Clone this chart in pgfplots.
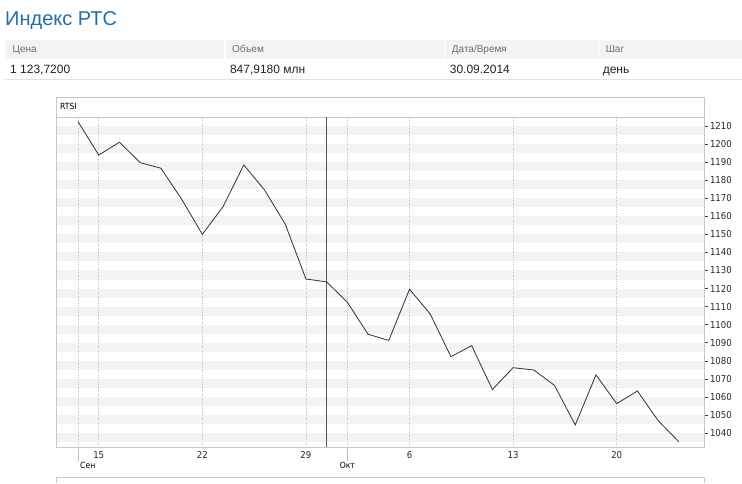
\documentclass[border=0pt]{standalone}
\usepackage{fontspec}
\setmainfont{Liberation Sans}
\newfontfamily\cond{DejaVu Sans Condensed}
\usepackage{pgfplots}
\pgfplotsset{compat=1.18}
\definecolor{titleblue}{HTML}{1F6FA8}
\definecolor{headgray}{HTML}{F3F3F3}
\definecolor{headtext}{HTML}{6E6E6E}
\definecolor{valtext}{HTML}{222222}
\definecolor{rowline}{HTML}{E2E2E2}
\definecolor{boxgray}{HTML}{C8C8C8}
\definecolor{gridgray}{HTML}{BDBDBD}
\definecolor{stripe}{HTML}{F3F3F3}
\definecolor{linecol}{HTML}{2C3C50}
\definecolor{cursor}{HTML}{555555}
\begin{document}
\begin{tikzpicture}[x=1pt,y=1pt]
\path (0pt,0pt) rectangle (742pt,-483pt);
% title
\node[anchor=base west, inner sep=0, text=titleblue, font=\fontsize{20}{24}\selectfont] at (5pt,-26pt) {Индекс РТС};
% header row
\fill[headgray] (5pt,-40pt) rectangle (742pt,-59.3pt);
\foreach \xx in {225,445,599} {\draw[white, line width=1.5pt] (\xx pt,-40pt) -- (\xx pt,-59.3pt);}
\begin{scope}[every node/.style={anchor=base west, inner sep=0, text=headtext, font=\fontsize{10}{12}\selectfont}]
\node at (12.5pt,-52.5pt) {Цена};
\node at (232pt,-52.5pt) {Объем};
\node at (452pt,-52.5pt) {Дата/Время};
\node at (606pt,-52.5pt) {Шаг};
\end{scope}
\begin{scope}[every node/.style={anchor=base west, inner sep=0, text=valtext, font=\fontsize{12}{14}\selectfont}]
\node at (10pt,-73.5pt) {1 123,7200};
\node at (230pt,-73.5pt) {847,9180 млн};
\node at (450pt,-73.5pt) {30.09.2014};
\node at (603pt,-73.5pt) {день};
\end{scope}
\draw[rowline, line width=1pt] (5pt,-79.3pt) -- (742pt,-79.3pt);
% chart header box
\draw[boxgray, line width=0.8pt] (56pt,-97pt) rectangle (705pt,-117pt);
\node[anchor=base west, inner sep=0, font=\cond\fontsize{8.5}{9}\selectfont] at (60pt,-110pt) {RTSI};
% bottom panel
\draw[boxgray, line width=0.8pt] (56pt,-483pt) -- (56pt,-477.7pt) -- (705pt,-477.7pt) -- (705pt,-483pt);
\begin{axis}[
  at={(56pt,-447.3pt)}, anchor=south west,
  scale only axis, width=649pt, height=330.3pt,
  set layers, clip=false,
  xmin=-1.065, xmax=30.24, ymin=1032.3, ymax=1215,
  axis line style={draw=boxgray, line width=0.8pt},
  xtick={0,1,6,11,13,16,21,26},
  xticklabels={,15,22,29,,6,13,20},
  xtick style={draw=none},
  xmajorgrids, grid style={gridgray, dotted, line width=0.7pt},
  ytick={1040,1050,...,1210},
  ytick pos=right, yticklabel pos=right,
  tick align=outside, major tick length=3pt,
  ytick style={draw=black!75, line width=0.6pt},
  /pgf/number format/1000 sep={},
  /pgf/number format/assume math mode=true,
  ticklabel style={font=\cond\fontsize{9.5}{10}\selectfont, text=black!85},
  yticklabel style={xshift=-1pt},
  xticklabel style={yshift=2pt},
]
\begin{pgfonlayer}{axis background}
\pgfplotsinvokeforeach{1040,1050,...,1210}{
  \fill[stripe] (axis cs:-1.065,#1-5) rectangle (axis cs:30.24,#1);
}
\end{pgfonlayer}
\draw[cursor, line width=0.9pt] (axis cs:12,1032.3) -- (axis cs:12,1215);
\addplot[color=linecol, line width=0.85pt, mark=none] coordinates {
(0,1212.4) (1,1193.9) (2,1201.0) (3,1189.7) (4,1186.6) (5,1169.5)
(6,1150.0) (7,1165.3) (8,1188.4) (9,1174.6) (10,1155.7) (11,1125.3)
(12,1123.7) (13,1112.4) (14,1094.7) (15,1091.3) (16,1119.6) (17,1105.9)
(18,1082.3) (19,1088.4) (20,1064.1) (21,1076.2) (22,1074.9) (23,1066.4)
(24,1044.5) (25,1072.2) (26,1056.3) (27,1063.3) (28,1046.9) (29,1035.2)
};
\draw[gridgray, line width=0.8pt] (axis cs:0,1032.3) -- ++(0pt,-14.4pt);
\draw[gridgray, line width=0.8pt] (axis cs:13,1032.3) -- ++(0pt,-14.4pt);
\node[anchor=base west, inner sep=0, font=\cond\fontsize{8.5}{10}\selectfont] at ([shift={(2pt,-22pt)}]axis cs:0,1032.3) {Сен};
\node[anchor=base, inner sep=0, font=\cond\fontsize{8.5}{10}\selectfont] at ([yshift=-22pt]axis cs:13,1032.3) {Окт};
\end{axis}
\end{tikzpicture}
\end{document}
